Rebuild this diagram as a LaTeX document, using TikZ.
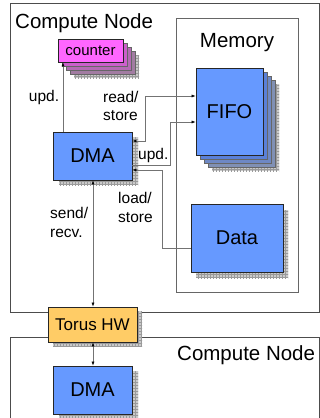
\documentclass[tikz,border=0pt]{standalone}
\usepackage{fontspec}
\setmainfont{Liberation Sans}
\usetikzlibrary{arrows.meta,patterns}
\definecolor{boxblue}{HTML}{6699FF}
\definecolor{blueA}{HTML}{5A80D8}
\definecolor{blueB}{HTML}{6E88C4}
\definecolor{blueC}{HTML}{8090B4}
\definecolor{magfront}{HTML}{FF66FF}
\definecolor{magA}{HTML}{CC5FCC}
\definecolor{magB}{HTML}{B56AB5}
\definecolor{magC}{HTML}{A27CA2}
\definecolor{torusorange}{HTML}{FFCC66}
\definecolor{shadowgray}{HTML}{CACACA}
\definecolor{gridline}{HTML}{9A9A9A}
\newcommand\myshadow[2]{\fill[shadowgray] #1 rectangle #2; \fill[pattern=grid,pattern color=gridline] #1 rectangle #2;}
\begin{document}
\begin{tikzpicture}[x=1pt,y=-1pt,
  box/.style={draw=black!85, line width=0.8pt, inner sep=0pt, font=\fontsize{20}{24}\selectfont},
  layer/.style={draw=black!60, line width=0.5pt},
  frame/.style={draw=black!70, line width=0.9pt},
  conn/.style={draw=black!55, line width=0.6pt},
  lbl/.style={inner sep=0pt, align=left, font=\fontsize{15.5}{18.5}\selectfont},
  title/.style={inner sep=0pt, font=\fontsize{20.5}{24}\selectfont},
  >={Latex[length=4pt,width=3pt,color=black]}]
\useasboundingbox (0,0) rectangle (320,418);
% outer frames
\draw[frame] (10,3) rectangle (319,312);
\draw[frame] (10,425) -- (10,337) -- (319,337) -- (319,425);
\draw[draw=black!60, line width=0.8pt] (176,18) rectangle (298,292);
\node[title, anchor=base west] (cn1) at (15,28) {Compute Node};
\node[title, anchor=base west] (cn2) at (177,360) {Compute Node};
\node[title, anchor=base] (mem) at (237,47) {Memory};
% counter stack
\myshadow{(74,55)}{(139,78)}
\filldraw[layer, fill=magC] (70,51) rectangle (135,74);
\filldraw[layer, fill=magB] (66,47) rectangle (131,70);
\filldraw[layer, fill=magA] (62,43) rectangle (127,66);
\node[box, fill=magfront, minimum width=65pt, minimum height=23pt, font=\fontsize{15}{18}\selectfont] (counter) at (90.5,50.5) {counter};
% FIFO stack
\myshadow{(212,84)}{(279,171)}
\filldraw[layer, fill=blueC] (208,80) rectangle (275,167);
\filldraw[layer, fill=blueB] (204,76) rectangle (271,163);
\filldraw[layer, fill=blueA] (200,72) rectangle (267,159);
\node[box, fill=boxblue, minimum width=67pt, minimum height=87pt] (fifo) at (229.5,111.5) {FIFO};
% Data
\myshadow{(196,210)}{(288,278)}
\node[box, fill=boxblue, minimum width=92pt, minimum height=68pt] (data) at (237,238) {Data};
% DMA
\myshadow{(59,137)}{(138,185)}
\node[box, fill=boxblue, minimum width=79pt, minimum height=48pt] (dma) at (92.5,156) {DMA};
% Torus
\myshadow{(53,311)}{(142,346)}
\node[box, fill=torusorange, minimum width=89pt, minimum height=35pt, font=\fontsize{17}{20}\selectfont] (torus) at (92.5,324.5) {Torus HW};
% DMA 2
\myshadow{(59,371)}{(138,419)}
\node[box, fill=boxblue, minimum width=79pt, minimum height=48pt] (dma2) at (92.5,390) {DMA};
% connectors
\draw[conn,->] (dma.north -| 63,0) -- (counter.south -| 63,0);
\draw[conn,<->] (dma.east |- 0,141) -- (145,141) -- (145,96) -- (fifo.west |- 0,96);
\draw[conn,->] (dma.east |- 0,165) -- (170,165) -- (170,122) -- (fifo.west |- 0,122);
\draw[conn,->] (data.west |- 0,248) -- (162,248) -- (162,170) -- (dma.east |- 0,170);
\draw[conn,<->] (dma.south -| 93,0) -- (torus.north -| 93,0);
\draw[conn,<->] (torus.south -| 93,0) -- (dma2.north -| 93,0);
% labels
\node[lbl, anchor=center] (l1) at (44,97) {upd.};
\node[lbl, anchor=west] (l2) at (103,106) {read/\\store};
\node[lbl, anchor=west] (l3) at (138,155) {upd.};
\node[lbl, anchor=west] (l4) at (118,207.5) {load/\\store};
\node[lbl, anchor=west] (l5) at (50,222.5) {send/\\recv.};
\end{tikzpicture}
\end{document}
